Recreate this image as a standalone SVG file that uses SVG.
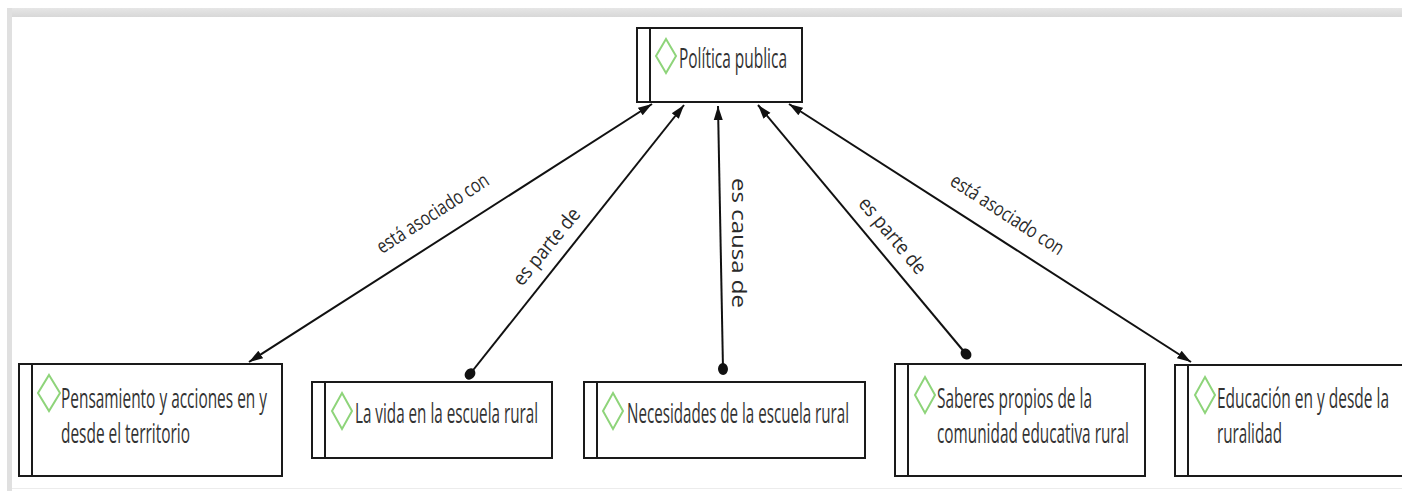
<svg xmlns="http://www.w3.org/2000/svg" width="1402" height="491" viewBox="0 0 1402 491">
<style>
.box{fill:#fff;stroke:#1a1a1a;stroke-width:2}
.bar{stroke:#1a1a1a;stroke-width:2}
.dia{fill:none;stroke:#8ed47a;stroke-width:2}
.nt{font-family:"Open Sans","Liberation Sans",sans-serif;font-size:28px;fill:#333}
.lt{font-family:"Open Sans","Liberation Sans",sans-serif;font-size:20px;fill:#2a2a2a}
.ln{fill:none;stroke:#111;stroke-width:2}
</style>
<defs>
<marker id="ah" markerWidth="15" markerHeight="11" refX="14" refY="5.5" orient="auto-start-reverse" markerUnits="userSpaceOnUse">
<path d="M0,1 L14,5.5 L0,10 Z" fill="#111"/>
</marker>
<marker id="dot" markerWidth="12" markerHeight="12" refX="6" refY="6" orient="auto" markerUnits="userSpaceOnUse">
<ellipse cx="6" cy="6" rx="6" ry="5" fill="#111"/>
</marker>
<linearGradient id="tb" x1="0" y1="0" x2="0" y2="1">
<stop offset="0" stop-color="#e6e6e6"/><stop offset="1" stop-color="#d8d8d8"/>
</linearGradient>
</defs>
<rect width="1402" height="491" fill="#fff"/>
<rect x="7" y="8" width="1395" height="9" fill="url(#tb)"/>
<rect x="7" y="8" width="5" height="483" fill="#e0e0e0"/>
<line x1="12" y1="488.5" x2="1402" y2="488.5" stroke="#ececec" stroke-width="1"/>

<g id="connectors">
<path class="ln" d="M652,104 L249,362" marker-start="url(#ah)" marker-end="url(#ah)"/>
<path class="ln" d="M470,374 L684,105" marker-start="url(#dot)" marker-end="url(#ah)"/>
<path class="ln" d="M723,369 L718,106" marker-start="url(#dot)" marker-end="url(#ah)"/>
<path class="ln" d="M966,354 L758,105" marker-start="url(#dot)" marker-end="url(#ah)"/>
<path class="ln" d="M789,104 L1191,362" marker-start="url(#ah)" marker-end="url(#ah)"/>
<text class="lt" transform="translate(433,214) rotate(-33) scale(0.8,1)" text-anchor="middle" y="6" textLength="162" lengthAdjust="spacingAndGlyphs">está asociado con</text>
<text class="lt" transform="translate(547,247) rotate(-50.6) scale(0.8,1)" text-anchor="middle" y="6" textLength="117" lengthAdjust="spacingAndGlyphs">es parte de</text>
<text class="lt" transform="translate(738,243) rotate(90)" text-anchor="middle" y="6" textLength="130" lengthAdjust="spacingAndGlyphs">es causa de</text>
<text class="lt" transform="translate(892,236) rotate(50.2) scale(0.8,1)" text-anchor="middle" y="6" textLength="117" lengthAdjust="spacingAndGlyphs">es parte de</text>
<text class="lt" transform="translate(1007,215) rotate(33) scale(0.8,1)" text-anchor="middle" y="6" textLength="164" lengthAdjust="spacingAndGlyphs">está asociado con</text>
</g>

<g id="node-politica">
<rect class="box" x="637" y="28" width="165" height="74"/>
<line class="bar" x1="650" y1="28" x2="650" y2="102"/>
<path class="dia" d="M666,39 L676,56 L666,73 L656,56 Z"/>
<text class="nt" transform="translate(679,68) scale(0.5,1)" textLength="216" lengthAdjust="spacingAndGlyphs">Política publica</text>
</g>

<g id="node-pensamiento">
<rect class="box" x="19" y="364" width="263" height="112"/>
<line class="bar" x1="32" y1="364" x2="32" y2="476"/>
<path class="dia" d="M49,375 L60,393 L49,411 L38,393 Z"/>
<text class="nt" transform="translate(61,408) scale(0.5,1)" textLength="412" lengthAdjust="spacingAndGlyphs">Pensamiento y acciones en y</text>
<text class="nt" transform="translate(61,443) scale(0.5,1)" textLength="258" lengthAdjust="spacingAndGlyphs">desde el territorio</text>
</g>

<g id="node-vida">
<rect class="box" x="312" y="382" width="240" height="76"/>
<line class="bar" x1="325" y1="382" x2="325" y2="458"/>
<path class="dia" d="M342,393 L352,411 L342,429 L332,411 Z"/>
<text class="nt" transform="translate(355,423) scale(0.5,1)" textLength="366" lengthAdjust="spacingAndGlyphs">La vida en la escuela rural</text>
</g>

<g id="node-necesidades">
<rect class="box" x="584" y="382" width="281" height="76"/>
<line class="bar" x1="597" y1="382" x2="597" y2="458"/>
<path class="dia" d="M613,393 L623,411 L613,429 L603,411 Z"/>
<text class="nt" transform="translate(627,423) scale(0.5,1)" textLength="444" lengthAdjust="spacingAndGlyphs">Necesidades de la escuela rural</text>
</g>

<g id="node-saberes">
<rect class="box" x="895" y="364" width="250" height="112"/>
<line class="bar" x1="908" y1="364" x2="908" y2="476"/>
<path class="dia" d="M925,377 L935,395 L925,413 L915,395 Z"/>
<text class="nt" transform="translate(937,408) scale(0.5,1)" textLength="310" lengthAdjust="spacingAndGlyphs">Saberes propios de la</text>
<text class="nt" transform="translate(937,443) scale(0.5,1)" textLength="384" lengthAdjust="spacingAndGlyphs">comunidad educativa rural</text>
</g>

<g id="node-educacion">
<rect class="box" x="1175" y="365" width="240" height="111"/>
<line class="bar" x1="1188" y1="365" x2="1188" y2="476"/>
<path class="dia" d="M1205,377 L1215,395 L1205,413 L1195,395 Z"/>
<text class="nt" transform="translate(1217,408) scale(0.5,1)" textLength="344" lengthAdjust="spacingAndGlyphs">Educación en y desde la</text>
<text class="nt" transform="translate(1217,443) scale(0.5,1)" textLength="130" lengthAdjust="spacingAndGlyphs">ruralidad</text>
</g>
</svg>
